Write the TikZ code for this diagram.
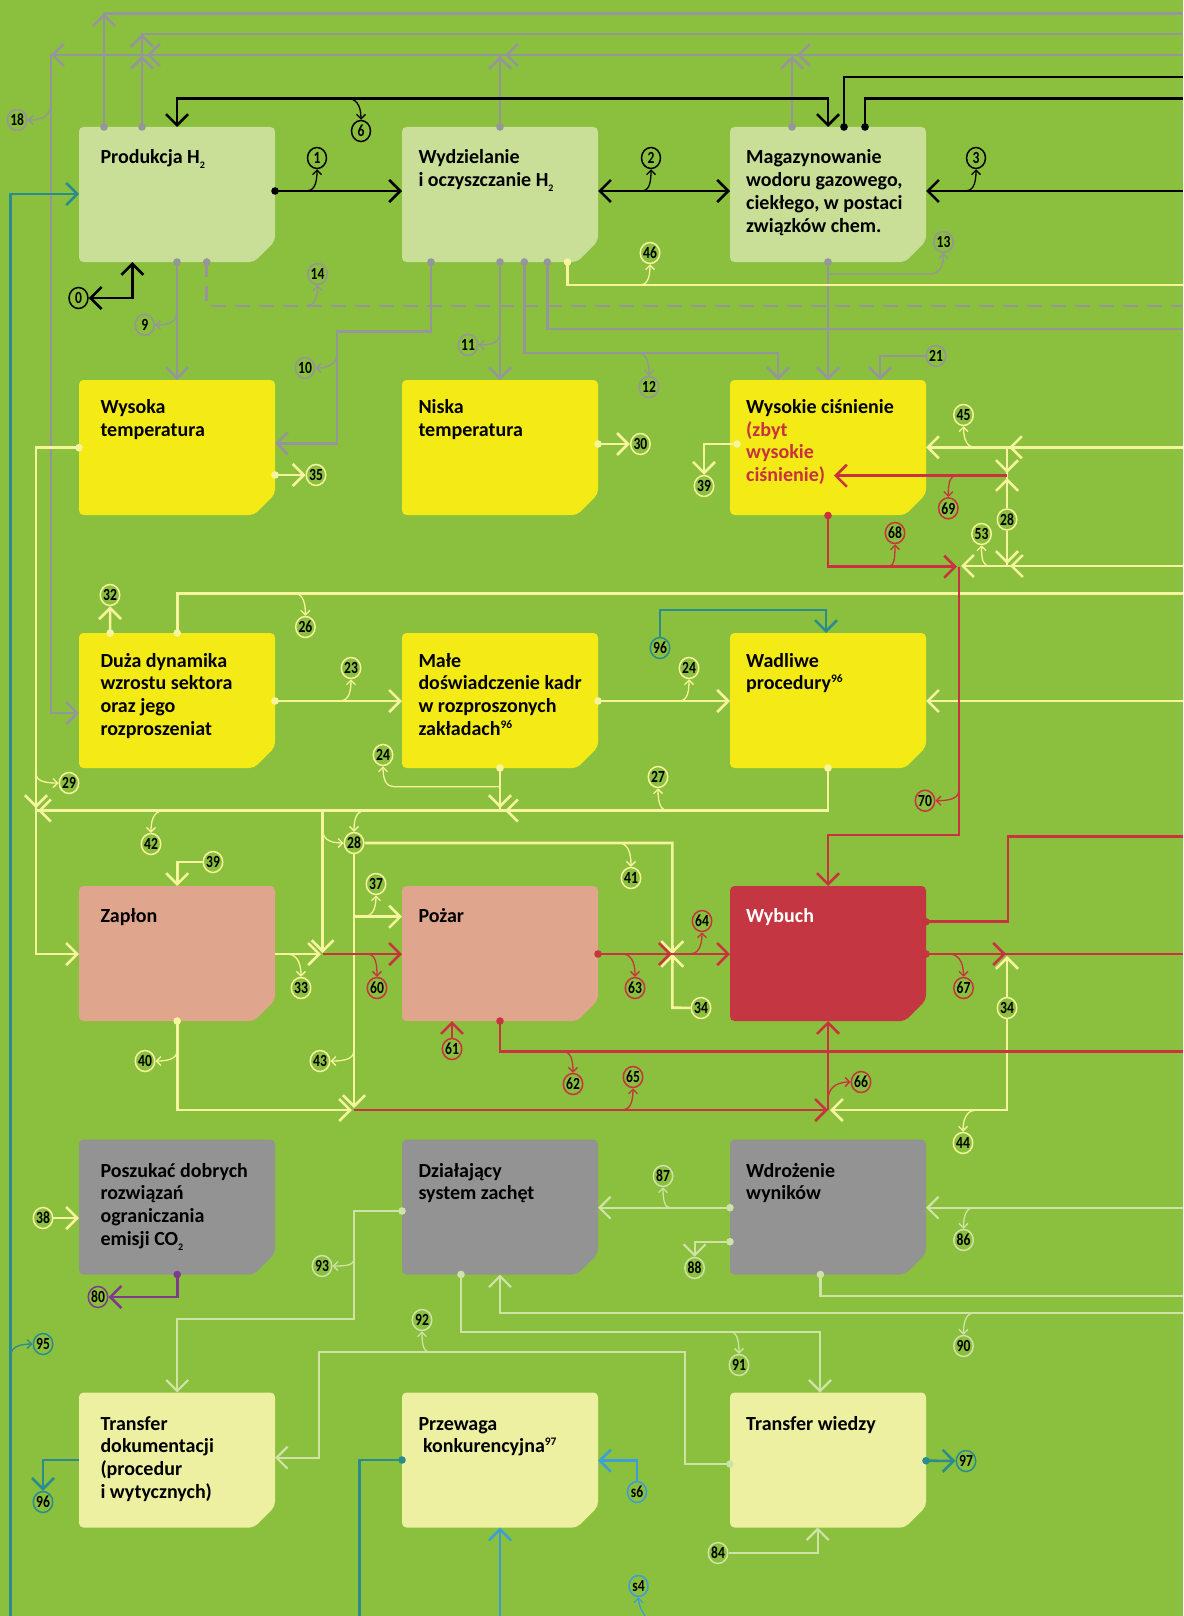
\documentclass[tikz,border=0pt]{standalone}
\usepackage{fontspec}
\setmainfont{Carlito}
\newfontfamily\numfam[FakeStretch=0.8]{Carlito}
\usetikzlibrary{arrows.meta}

\definecolor{bg}{HTML}{8BBF3E}
\definecolor{boxlight}{HTML}{C9DE97}
\definecolor{boxyellow}{HTML}{F3EA16}
\definecolor{boxsalmon}{HTML}{E0A68D}
\definecolor{boxred}{HTML}{C43642}
\definecolor{boxgray}{HTML}{939393}
\definecolor{boxpale}{HTML}{EEF0A1}
\definecolor{cgray}{HTML}{95959B}
\definecolor{cyel}{HTML}{F7F49E}
\definecolor{cred}{HTML}{C9323F}
\definecolor{cteal}{HTML}{2B8C8E}
\definecolor{cblue}{HTML}{3A9ED8}
\definecolor{cpurp}{HTML}{7E3B8E}
\definecolor{clight}{HTML}{CFE3A6}
\definecolor{tred}{HTML}{C8323F}

\newcommand\boxfont{\fontsize{20}{22.8}\selectfont\bfseries}
\newcommand\numfont{\numfam\bfseries\fontsize{17}{17}\selectfont}
\newcommand\lowtwo{\raisebox{-5pt}{\fontsize{10}{10}\selectfont 2}}
\newcommand\hi[1]{\raisebox{7pt}{\fontsize{11.5}{11.5}\selectfont #1}}

% panel with a cut bottom-right corner: name, left, top, colour
\newcommand\panel[4]{%
  \fill[#4,rounded corners=4.5pt] (#2,#3) -- ++(196,0) -- ++(0,114) -- ++(-21,21) -- ++(-175,0) -- cycle;
  \node[inner sep=0pt,minimum width=196pt,minimum height=135pt,anchor=north west] (#1) at (#2,#3) {};}
% panel caption: name, position, text, colour
\newcommand\lbl[4]{\node[anchor=base west,inner sep=0pt,text=#4] (#1) at (#2) {\parbox[t]{182pt}{\boxfont\raggedright #3}};}
% chevrons placed on a line (apex at the given point)
\newcommand\chD[3]{\draw[#1,tipE] (#2,#3-9) -- (#2,#3);}
\newcommand\chU[3]{\draw[#1,tipE] (#2,#3+9) -- (#2,#3);}
\newcommand\chL[3]{\draw[#1,tipE] (#2+9,#3) -- (#2,#3);}
\newcommand\chR[3]{\draw[#1,tipE] (#2-9,#3) -- (#2,#3);}

\tikzset{
  tipE/.style={-{Straight Barb[length=11pt,width=22pt]}},
  tipB/.style={{Straight Barb[length=11pt,width=22pt]}-{Straight Barb[length=11pt,width=22pt]}},
  mainln/.style={line width=2.6pt},
  brn/.style={line width=1.3pt,-{Straight Barb[length=4.5pt,width=9pt]}},
  gl/.style={mainln,draw=cgray}, gb/.style={brn,draw=cgray},
  bl/.style={mainln,draw=black}, bb/.style={brn,draw=black},
  yl/.style={mainln,draw=cyel}, yb/.style={brn,draw=cyel},
  rl/.style={mainln,draw=cred}, rb/.style={brn,draw=cred},
  tl/.style={mainln,draw=cteal}, tb/.style={brn,draw=cteal},
  sl/.style={mainln,draw=cblue}, sb/.style={brn,draw=cblue},
  pl/.style={mainln,draw=cpurp},
  ll/.style={line width=2.2pt,draw=clight}, lb/.style={brn,draw=clight},
  num/.style={ellipse,draw=#1,fill=bg,line width=1.5pt,minimum width=19pt,minimum height=21pt,inner sep=0pt,font=\numfont,text=black},
}
\usetikzlibrary{shapes.geometric}

\begin{document}
\begin{tikzpicture}[x=1pt,y=-1pt]
\fill[bg] (0,0) rectangle (1183,1616);
\useasboundingbox (0,0) rectangle (1183,1616);

% ---------- panels
\panel{b11}{79}{127}{boxlight}
\panel{b12}{402}{127}{boxlight}
\panel{b13}{730}{127}{boxlight}
\panel{b21}{79}{380}{boxyellow}
\panel{b22}{402}{380}{boxyellow}
\panel{b23}{730}{380}{boxyellow}
\panel{b31}{79}{633}{boxyellow}
\panel{b32}{402}{633}{boxyellow}
\panel{b33}{730}{633}{boxyellow}
\panel{b41}{79}{886}{boxsalmon}
\panel{b42}{402}{886}{boxsalmon}
\panel{b43}{730}{886}{boxred}
\panel{b51}{79}{1139.5}{boxgray}
\panel{b52}{402}{1139.5}{boxgray}
\panel{b53}{730}{1139.5}{boxgray}
\panel{b61}{79}{1392.5}{boxpale}
\panel{b62}{402}{1392.5}{boxpale}
\panel{b63}{730}{1392.5}{boxpale}

\lbl{t11}{100.3,164}{Produkcja H\lowtwo}{black}
\lbl{t12}{418.3,164}{Wydzielanie\\i oczyszczanie H\lowtwo}{black}
\lbl{t13}{746,164}{Magazynowanie\\wodoru gazowego,\\ciekłego, w postaci\\związków chem.}{black}
\lbl{t21}{100.3,413.3}{Wysoka\\temperatura}{black}
\lbl{t22}{418.3,413.3}{Niska\\temperatura}{black}
\lbl{t23}{746,413.3}{Wysokie ciśnienie\\{\color{tred}(zbyt\\wysokie\\ciśnienie)}}{black}
\lbl{t31}{100.3,667}{Duża dynamika\\wzrostu sektora\\oraz jego\\rozproszeniat}{black}
\lbl{t32}{418.3,667}{Małe\\doświadczenie kadr\\w rozproszonych\\zakładach\hi{96}}{black}
\lbl{t33}{746,667}{Wadliwe\\procedury\hi{96}}{black}
\lbl{t41}{100.3,922}{Zapłon}{black}
\lbl{t42}{418.3,922}{Pożar}{black}
\lbl{t43}{746,922}{Wybuch}{white}
\lbl{t51}{100.3,1177}{Poszukać dobrych\\rozwiązań\\ograniczania\\emisji CO\lowtwo}{black}
\lbl{t52}{418.3,1177}{Działający\\system zachęt}{black}
\lbl{t53}{746,1177}{Wdrożenie\\wyników}{black}
\lbl{t61}{100.3,1430}{Transfer\\dokumentacji\\(procedur\\i wytycznych)}{black}
\lbl{t62}{418.3,1430}{Przewaga\\\ konkurencyjna\hi{97}}{black}
\lbl{t63}{746,1430}{Transfer wiedzy}{black}

% ---------- numbered markers
\node[num=cgray] (c18) at (17.2,120) {18};
\node[num=cgray] (c9) at (144.7,325) {9};
\node[num=cgray] (c14) at (317.6,274) {14};
\node[num=cgray] (c10) at (305,368) {10};
\node[num=cgray] (c11) at (468,345) {11};
\node[num=cgray] (c12) at (649,387) {12};
\node[num=cgray] (c13) at (943.5,242) {13};
\node[num=cgray] (c21) at (936,356) {21};
\node[num=black] (c0) at (78.5,298) {0};
\node[num=black] (c1) at (317,158) {1};
\node[num=black] (c6) at (361,131) {6};
\node[num=black] (c2) at (651,158) {2};
\node[num=black] (c3) at (976,158) {3};
\node[num=cyel] (c46) at (650,253) {46};
\node[num=cyel] (c35) at (316,475) {35};
\node[num=cyel] (c30) at (640.4,444) {30};
\node[num=cyel] (c39a) at (704,486) {39};
\node[num=cyel] (c45) at (963.5,415) {45};
\node[num=cyel] (c28a) at (1007,519.5) {28};
\node[num=cyel] (c53) at (981.5,534) {53};
\node[num=cyel] (c32) at (110,595) {32};
\node[num=cyel] (c26) at (305.4,627) {26};
\node[num=cyel] (c23) at (351,668) {23};
\node[num=cyel] (c24a) at (383,755) {24};
\node[num=cyel] (c24b) at (689,668) {24};
\node[num=cyel] (c29) at (69,783) {29};
\node[num=cyel] (c27) at (658,777) {27};
\node[num=cyel] (c42) at (151,844) {42};
\node[num=cyel] (c39b) at (213,862) {39};
\node[num=cyel] (c28b) at (354,843) {28};
\node[num=cyel] (c41) at (631,878) {41};
\node[num=cyel] (c37) at (376,884) {37};
\node[num=cyel] (c33) at (301,988) {33};
\node[num=cyel] (c34a) at (701,1008) {34};
\node[num=cyel] (c34b) at (1007,1008) {34};
\node[num=cyel] (c40) at (145,1061) {40};
\node[num=cyel] (c43) at (320,1061) {43};
\node[num=cyel] (c44) at (963,1143) {44};
\node[num=cyel] (c38) at (43,1218) {38};
\node[num=cred] (c69) at (948.3,508.3) {69};
\node[num=cred] (c68) at (895,533) {68};
\node[num=cred] (c70) at (925,800.7) {70};
\node[num=cred] (c60) at (377,988) {60};
\node[num=cred] (c63) at (635,988) {63};
\node[num=cred] (c64) at (702,921) {64};
\node[num=cred] (c61) at (452,1049) {61};
\node[num=cred] (c62) at (573,1084) {62};
\node[num=cred] (c65) at (633,1077) {65};
\node[num=cred] (c66) at (861,1082) {66};
\node[num=cred] (c67) at (963.5,988) {67};
\node[num=cteal] (c96a) at (660,648) {96};
\node[num=cteal] (c95) at (43,1344) {95};
\node[num=cteal] (c96b) at (43,1502) {96};
\node[num=cteal] (c97) at (966,1461) {97};
\node[num=cblue] (cs6) at (637,1492) {s6};
\node[num=cblue] (cs4) at (638.5,1586) {s4};
\node[num=cpurp] (c80) at (98,1297) {80};
\node[num=clight] (c87) at (663,1176) {87};
\node[num=clight] (c88) at (694.6,1268) {88};
\node[num=clight] (c86) at (963.5,1240) {86};
\node[num=clight] (c93) at (322,1266) {93};
\node[num=clight] (c92) at (422,1320) {92};
\node[num=clight] (c91) at (739,1365) {91};
\node[num=clight] (c90) at (963.5,1346) {90};
\node[num=clight] (c84) at (718,1553) {84};

% ---------- grey links
\draw[gl] (1183,13.3) -- (104,13.3) -- (104,127);
\chU{gl}{104}{13.3}
\draw[gl] (1183,34) -- (142,34) -- (142,127);
\chU{gl}{142}{34}
\chU{gl}{142}{56}
\chL{gl}{147}{55}
\draw[gl,tipE] (1183,55) -- (51,55) -- (51,713) -- (79,713);
\chL{gl}{51}{55}
\draw[gl] (500,127) -- (500,55);
\chU{gl}{500}{56}
\chL{gl}{505}{55}
\draw[gl] (792,127) -- (792,55);
\chU{gl}{792}{56}
\chL{gl}{797}{55}
\draw[gb] (51,103) .. controls (51,113) and (46,120) .. (c18);
\draw[gl,tipE] (177,262) -- (177,380);
\draw[gb] (177,311) .. controls (177,320) and (172,325) .. (c9);
\draw[gl,dash pattern=on 15pt off 9pt] (206.7,262) -- (206.7,306) -- (1183,306);
\draw[gb] (306,306) .. controls (313,306) and (317.6,300) .. (c14);
\draw[gl,tipE] (431,262) -- (431,331.7) -- (337,331.7) -- (337,443.3) -- (275,443.3);
\draw[gb] (337,352) .. controls (337,362) and (332,368) .. (c10);
\draw[gl,tipE] (500,262) -- (500,380);
\draw[gb] (500,332) .. controls (500,341) and (495,345) .. (c11);
\draw[gl,tipE] (524.3,262) -- (524.3,353) -- (778,353) -- (778,380);
\draw[gb] (637,353) .. controls (645,353) and (649,358) .. (c12);
\draw[gl] (547.3,262) -- (547.3,329) -- (1183,329);
\draw[gl,tipE] (828,262) -- (828,380);
\draw[gb] (828,274) -- (930,274) .. controls (938,274) and (943.5,268) .. (c13);
\draw[gl,tipE] (c21) -- (880,356) -- (880,380);

% ---------- black links
\draw[bl,tipB] (177,127) -- (177,98.3) -- (828,98.3) -- (828,127);
\draw[bb] (347,98.3) .. controls (355,98.3) and (361,104) .. (c6);
\draw[bl] (844,127) -- (844,77) -- (1183,77);
\draw[bl] (865,127) -- (865,98.3) -- (1183,98.3);
\draw[bl,tipE] (275,191) -- (402,191);
\draw[bb] (306,191) .. controls (313,191) and (317,186) .. (c1);
\draw[bl,tipB] (598,191) -- (730,191);
\draw[bb] (641,191) .. controls (648,191) and (651,186) .. (c2);
\draw[bl,tipE] (1183,191) -- (926,191);
\draw[bb] (965,191) .. controls (972,191) and (976,186) .. (c3);
\draw[bl,tipB] (132.4,262) -- (132.4,298) -- (c0);

% ---------- yellow links
\draw[yl] (567.5,262) -- (567.5,285) -- (1183,285);
\draw[yb] (640,285) .. controls (646,285) and (650,280) .. (c46);
\draw[yl,tipE] (79,447.7) -- (36,447.7) -- (36,954) -- (79,954);
\draw[yb] (36,773) .. controls (36,780) and (42,783) .. (c29);
\draw[yl] (828,768) -- (828,810.5) -- (36,810.5);
\chL{yl}{38}{810.5}
\chD{yl}{36}{808}
\draw[yb] (668,810.5) .. controls (661,810.5) and (658,804) .. (c27);
\draw[yb] (165,810.5) .. controls (156,810.5) and (151,816) .. (c42);
\draw[yb] (366,810.5) .. controls (358,810.5) and (354,816) .. (c28b);
\draw[yl] (500,768) -- (500,810.5);
\chD{yl}{500}{808}
\chL{yl}{505}{810.5}
\draw[yb] (500,786.7) -- (394,786.7) .. controls (387,786.7) and (383,781) .. (c24a);
\draw[yl,tipE] (275,475) -- (c35);
\draw[yl,tipE] (598,444) -- (c30);
\draw[yl,tipE] (737,444) -- (704,444) -- (c39a);
\draw[yl,tipE] (1183,447.3) -- (926,447.3);
\chL{yl}{1009}{447.3}
\draw[yb] (975,447.3) .. controls (968,447.3) and (963.5,441) .. (c45);
\draw[yl] (1007,447.3) -- (c28a);
\draw[yl] (c28a) -- (1007,566);
\chD{yl}{1007}{473}
\chU{yl}{1007}{478}
\chD{yl}{1007}{564}
\draw[yl,tipE] (1183,566) -- (961,566);
\chL{yl}{1010}{566}
\draw[yb] (990,566) .. controls (983,566) and (981.5,560) .. (c53);
\draw[yl] (177.2,633) -- (177.2,593.3) -- (1183,593.3);
\draw[yb] (294,593.3) .. controls (301,593.3) and (305.4,599) .. (c26);
\draw[yl,tipE] (110.2,633) -- (c32);
\draw[yl,tipE] (275,701) -- (402,701);
\draw[yb] (340,701) .. controls (347,701) and (351,695) .. (c23);
\draw[yl,tipE] (598,701) -- (730,701);
\draw[yb] (679,701) .. controls (686,701) and (689,695) .. (c24b);
\draw[yl,tipE] (1183,701) -- (926,701);
\draw[yl,tipE] (322.6,810.5) -- (322.6,953);
\draw[yl,tipE] (275,954) -- (321,954);
\draw[yb] (287,954) .. controls (295,954) and (301,960) .. (c33);
\draw[yb] (322.6,829) .. controls (322.6,838) and (328,843) .. (c28b);
\draw[yl] (c28b) -- (672.3,843) -- (672.3,1007.7) -- (c34a);
\chD{yl}{672.3}{954}
\chU{yl}{672.3}{954}
\draw[yb] (618,843) .. controls (626,843) and (631,849) .. (c41);
\draw[yl,tipE] (c28b) -- (354,1108);
\draw[yl,tipE] (354,916.7) -- (402,916.7);
\draw[yb] (363,916.7) .. controls (371,916.7) and (376,911) .. (c37);
\draw[yb] (354,1050) .. controls (354,1057) and (349,1061) .. (c43);
\draw[yl,tipE] (c39b) -- (177.2,862) -- (177.2,886);
\draw[yl,tipE] (177.2,1021) -- (177.2,1110) -- (352,1110);
\draw[yb] (177.2,1050) .. controls (177.2,1057) and (172,1061) .. (c40);
\draw[yl,tipE] (c34b) -- (1007,956);
\draw[yl,tipE] (c34b) -- (1007,1110) -- (830,1110);
\draw[yb] (976,1110) .. controls (969,1110) and (963,1116) .. (c44);
\draw[yl,tipE] (c38) -- (79,1218);

% ---------- red links
\draw[rl,tipE] (828,515.5) -- (828,566.7) -- (957,566.7);
\draw[rb] (887,566.7) .. controls (894,566.7) and (895,560) .. (c68);
\draw[rl,tipE] (1007,475.7) -- (834,475.7);
\draw[rb] (957,475.7) .. controls (950,475.7) and (948.3,482) .. (c69);
\draw[rl,tipE] (958.8,566.7) -- (958.8,835) -- (828,835) -- (828,886);
\draw[rb] (958.8,790) .. controls (958.8,797) and (953,800.7) .. (c70);
\draw[rl,tipE] (322.6,954) -- (402,954);
\draw[rb] (367,954) .. controls (374,954) and (377,960) .. (c60);
\draw[rl,tipE] (598,954) -- (730,954);
\chR{rl}{671.7}{954}
\draw[rb] (622,954) .. controls (630,954) and (635,960) .. (c63);
\draw[rb] (690,954) .. controls (697,954) and (702,948) .. (c64);
\draw[rl,tipE] (c61) -- (452,1021);
\draw[rl] (500,1021) -- (500,1051.7) -- (1183,1051.7);
\draw[rb] (563,1051.7) .. controls (570,1051.7) and (573,1058) .. (c62);
\draw[rl,tipE] (354,1110) -- (828,1110);
\draw[rb] (622,1110) .. controls (629,1110) and (633,1104) .. (c65);
\draw[rl,tipE] (828,1110) -- (828,1021);
\draw[rb] (828,1100) .. controls (828,1090) and (834,1082) .. (c66);
\draw[rl] (926,921.7) -- (1008,921.7) -- (1008,836.7) -- (1183,836.7);
\draw[rl] (926,954) -- (1183,954);
\chR{rl}{1006}{954}
\draw[rb] (949,954) .. controls (957,954) and (963.5,960) .. (c67);

% ---------- teal, blue and purple links
\draw[tl,tipE] (10.7,1616) -- (10.7,194) -- (79,194);
\draw[tb] (10.7,1356) .. controls (10.7,1348) and (18,1344) .. (c95);
\draw[tl,tipE] (c96a) -- (660,610) -- (826,610) -- (826,633);
\draw[tl,tipE] (79,1460) -- (43,1460) -- (c96b);
\draw[tl] (402,1460) -- (359.7,1460) -- (359.7,1616);
\draw[tl,tipE] (926,1460.7) -- (c97);
\draw[sl,tipE] (500,1616) -- (500,1527.5);
\draw[sl,tipE] (cs6) -- (637,1460.7) -- (598,1460.7);
\draw[sb] (645,1616) .. controls (640,1608) and (638.5,1603) .. (cs4);
\draw[pl,tipE] (177.2,1274.5) -- (177.2,1297) -- (c80);

% ---------- pale green links
\draw[ll,tipE] (730,1207.7) -- (598,1207.7);
\draw[lb] (670,1207.7) .. controls (665,1207.7) and (663,1201) .. (c87);
\draw[ll,tipE] (730,1241.7) -- (694.6,1241.7) -- (c88);
\draw[ll,tipE] (1183,1207.7) -- (926,1207.7);
\draw[lb] (974,1207.7) .. controls (967,1207.7) and (963.5,1214) .. (c86);
\draw[ll] (820.4,1274.5) -- (820.4,1295.7) -- (1183,1295.7);
\draw[ll,tipE] (402,1211) -- (354,1211) -- (354,1319) -- (177.2,1319) -- (177.2,1392.5);
\draw[lb] (354,1258) .. controls (354,1265) and (348,1266) .. (c93);
\draw[ll,tipE] (461,1274.5) -- (461,1331.7) -- (820,1331.7) -- (820,1392.5);
\draw[lb] (730,1331.7) .. controls (736,1331.7) and (739,1338) .. (c91);
\draw[ll,tipE] (1183,1313) -- (500,1313) -- (500,1274.5);
\draw[lb] (974,1313) .. controls (967,1313) and (963.5,1320) .. (c90);
\draw[ll,tipE] (730,1464) -- (685,1464) -- (685,1352.3) -- (318.8,1352.3) -- (318.8,1457.7) -- (275,1457.7);
\draw[lb] (430.5,1352.3) .. controls (424,1352.3) and (422,1346) .. (c92);
\draw[ll,tipE] (c84) -- (817.7,1553) -- (817.7,1527.5);

% ---------- connection dots
\foreach \p in {(104,127),(142,127),(500,127),(792,127),(177,262),(206.7,262),(431,262),(500,262),(524.3,262),(547.3,262),(828,262)}
  \fill[cgray] \p circle[radius=3.8pt];
\foreach \p in {(844,127),(865,127),(275,191)}
  \fill[black] \p circle[radius=3.8pt];
\foreach \p in {(567.5,262),(79,447.7),(275,475),(598,444),(737,444),(177.2,633),(110.2,633),(275,701),(598,701),(828,768),(500,768),(177.2,1021)}
  \fill[cyel] \p circle[radius=3.8pt];
\foreach \p in {(828,515.5),(598,954),(500,1021),(926,921.7),(926,954)}
  \fill[cred] \p circle[radius=3.8pt];
\foreach \p in {(402,1460),(926,1460.7)}
  \fill[cteal] \p circle[radius=3.8pt];
\fill[cpurp] (177.2,1274.5) circle[radius=3.8pt];
\foreach \p in {(730,1207.7),(730,1241.7),(820.4,1274.5),(402,1211),(461,1274.5),(730,1464)}
  \fill[clight] \p circle[radius=3.8pt];
\end{tikzpicture}
\end{document}
